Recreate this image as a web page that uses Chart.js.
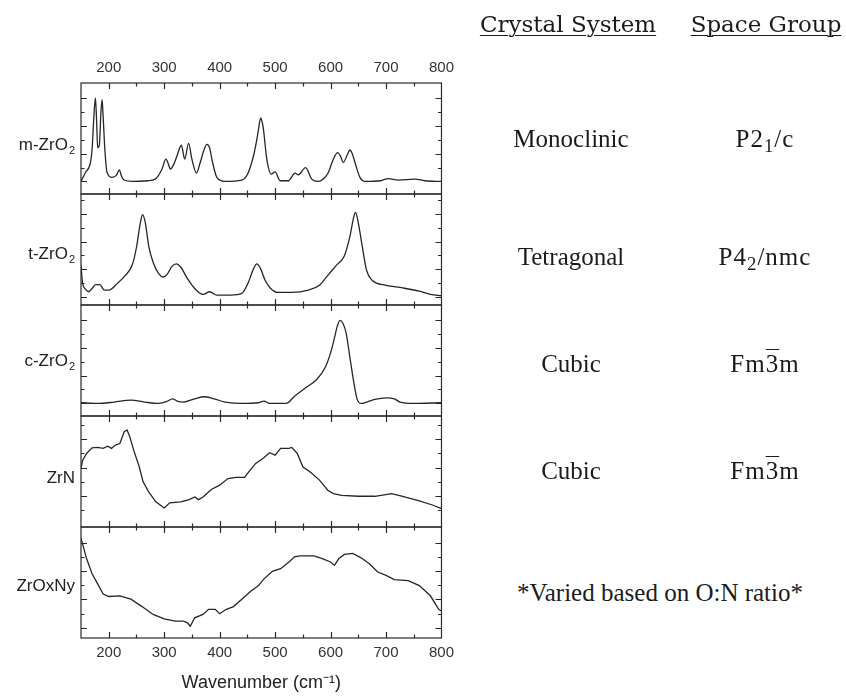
<!DOCTYPE html>
<html>
<head>
<meta charset="utf-8">
<script src="https://cdn.jsdelivr.net/npm/chart.js@4.4.1/dist/chart.umd.min.js"></script>
<style>
  html, body { margin: 0; padding: 0; background: #fff; }
  body { width: 846px; height: 696px; position: relative; overflow: hidden; }
  #plot { position: absolute; left: 0; top: 0; }
  .t { position: absolute; width: 300px; text-align: center; font-family: "Liberation Serif", "Times New Roman", serif;
       color: #1b1b1b; line-height: 1; white-space: nowrap; }
  .h { font-family: "DejaVu Serif", serif; font-size: 23px; text-decoration: underline; text-decoration-thickness: 1.4px; text-underline-offset: 3px; }
  .r { font-size: 25px; }
  .g { font-size: 25px; letter-spacing: 1px; }
  .t sub { font-size: 0.75em; vertical-align: -0.28em; line-height: 0; }
  .ov { text-decoration: overline; text-decoration-thickness: 1.4px; }
</style>
</head>
<body>
<canvas id="plot" width="460" height="696"></canvas>
<div id="table"></div>
<script>
// Raman spectra, intensity in arbitrary units (one unit per y tick), x in cm^-1
const wavenumberTicks = [200, 300, 400, 500, 600, 700, 800];

const mZrO2 = [[150,0],[158,0.64],[167,1.36],[170,2.3],[173,4.5],[176,6.0],[178,4.5],[180,2.43],[183,2.6],[186,5.0],[188,5.88],[190,4.6],[193,2.3],[197,0.64],[206,0.29],[214,0.45],[219,0.83],[223,0.4],[227,0.12],[242,0],[270,0.05],[284,0.17],[296,0.88],[303,1.6],[308,1.2],[311,0.88],[318,1.3],[323,1.83],[331,2.6],[337,1.6],[344,2.74],[350,1.6],[358,0.6],[365,1.36],[372,2.3],[377,2.67],[382,2.4],[386,1.6],[395,0.29],[410,0],[440,0.1],[450,0.5],[461,1.83],[467,3.0],[470,3.74],[474,4.57],[477,4.2],[479,3.74],[485,1.6],[493,0.52],[500,0.69],[509,0.05],[524,0.05],[536,0.6],[542,0.48],[555,1.0],[566,0.17],[578,0],[590,0.3],[596,0.64],[605,1.6],[613,2.07],[618,1.8],[623,1.36],[630,1.9],[635,2.26],[639,2.0],[644,1.36],[653,0.29],[662,0],[690,0.05],[704,0.21],[722,0.1],[752,0.17],[770,0.05],[800,0]];

const tZrO2 = [[150,2.26],[153,0.95],[158,0.55],[164,0.36],[170,0.6],[176,0.88],[184,0.88],[192,0.48],[200,0.48],[215,0.95],[230,1.55],[242,2.26],[250,3.57],[257,5.36],[261,5.95],[266,5.36],[272,3.69],[280,2.5],[290,1.67],[298,1.43],[305,1.6],[314,2.2],[322,2.38],[330,2.14],[342,1.31],[355,0.6],[370,0.17],[382,0.36],[395,0.12],[420,0.12],[440,0.24],[452,1.07],[461,2.02],[467,2.38],[474,2.02],[482,1.19],[492,0.6],[505,0.31],[530,0.31],[560,0.48],[580,0.83],[595,1.55],[610,2.26],[625,2.98],[635,4.4],[642,5.83],[645,6.12],[650,5.36],[657,3.69],[665,1.9],[675,1.19],[700,0.83],[730,0.64],[760,0.4],[780,0.17],[800,0.07]];

const cZrO2 = [[150,0.05],[180,0],[210,0.1],[240,0.24],[265,0.1],[290,0],[305,0.14],[315,0.33],[325,0.14],[335,0.1],[355,0.33],[372,0.48],[390,0.33],[410,0.1],[440,0],[470,0.05],[480,0.17],[490,0],[520,0],[535,0.52],[555,1.12],[575,1.71],[590,2.55],[600,3.62],[607,4.69],[612,5.52],[617,5.95],[622,5.76],[628,5.05],[635,3.26],[642,1.48],[648,0.29],[655,0],[665,0.1],[680,0.29],[700,0.4],[715,0.33],[725,0.1],[750,0],[800,0.05]];

const ZrN = [[150,3.93],[153,4.52],[160,5.0],[170,5.4],[180,5.43],[190,5.36],[198,5.52],[205,5.36],[212,5.6],[220,5.71],[228,6.55],[233,6.67],[238,6.19],[245,5.24],[255,4.05],[262,2.98],[272,2.26],[285,1.55],[300,1.12],[310,1.48],[330,1.55],[345,1.71],[355,1.9],[362,1.71],[370,1.9],[385,2.43],[400,2.74],[415,3.21],[430,3.29],[445,3.29],[455,3.81],[465,4.29],[478,4.64],[490,5.05],[500,4.88],[510,5.36],[525,5.36],[530,5.43],[540,5.0],[550,4.05],[565,3.62],[580,3.1],[595,2.38],[605,2.14],[620,2.02],[650,1.95],[680,1.95],[710,2.14],[730,1.95],[760,1.62],[785,1.31],[800,1.07]];

const ZrOxNy = [[150,6.31],[155,5.6],[160,4.88],[170,3.81],[180,3.1],[190,2.38],[200,2.21],[220,2.26],[240,2.02],[260,1.5],[280,0.95],[300,0.64],[320,0.48],[335,0.48],[342,0.36],[347,0.12],[355,0.71],[370,0.95],[380,1.31],[392,1.31],[400,1.0],[412,1.31],[425,1.5],[440,2.02],[455,2.55],[470,2.98],[480,3.45],[495,3.98],[510,4.17],[525,4.64],[535,5.0],[545,5.07],[570,5.07],[585,4.88],[600,4.64],[607,4.4],[615,4.88],[625,5.17],[640,5.24],[655,4.93],[670,4.52],[685,3.93],[700,3.69],[715,3.4],[740,3.33],[760,2.98],[780,2.26],[795,1.31],[800,1.19]];

const spectra = [mZrO2, tZrO2, cZrO2, ZrN, ZrOxNy];
const panelNames = [['m-ZrO', '2'], ['t-ZrO', '2'], ['c-ZrO', '2'], ['ZrN', ''], ['ZrOxNy', '']];
const yMin = [-0.9, -0.6, -0.9, -0.24, -0.71];
const yMax = [7.07, 7.45, 7.05, 7.67, 7.1];

const crystalSystems = ['Monoclinic', 'Tetragonal', 'Cubic', 'Cubic'];
const spaceGroups = ['P2<sub>1</sub>/c', 'P4<sub>2</sub>/nmc', 'Fm<span class="ov">3</span>m', 'Fm<span class="ov">3</span>m'];
const footnote = '*Varied based on O:N ratio*';

// ---- right-hand table (HTML text) ----
const rowBaselines = [147, 265, 372, 479];
const table = document.getElementById('table');
function addText(cls, html, centerX, baseline, size) {
  const d = document.createElement('div');
  d.className = 't ' + cls;
  d.innerHTML = html;
  d.style.left = (centerX - 150) + 'px';
  d.style.top = (baseline - 0.84 * size) + 'px';
  table.appendChild(d);
}
addText('h', 'Crystal System', 568, 32, 23);
addText('h', 'Space Group', 766, 32, 23);
crystalSystems.forEach((s, i) => addText('r', s, 571, rowBaselines[i], 25));
spaceGroups.forEach((s, i) => addText('g', s, 765, rowBaselines[i], 25));
addText('r', footnote, 660, 601, 25);

// ---- stacked spectra ----
const panelIds = spectra.map((_, i) => 'y' + i);
const labelDy = [7, 5, 1, 7, 4];
const sansFamily = '"Liberation Sans", Arial, sans-serif';
const lineColor = '#262626';

const frames = {
  id: 'frames',
  afterDatasetsDraw(chart) {
    const ctx = chart.ctx;
    const xs = chart.scales.x;
    const { left, right } = chart.chartArea;
    ctx.save();
    ctx.strokeStyle = '#2a2a2a';
    ctx.lineWidth = 1.2;
    panelIds.forEach((id, i) => {
      const ys = chart.scales[id];
      const top = ys.top, bottom = ys.bottom;
      ctx.strokeRect(left, top, right - left, bottom - top);
      ctx.beginPath();
      for (let v = 200; v < 800; v += 50) {
        const px = Math.round(xs.getPixelForValue(v)) + 0.5;
        const len = v % 100 === 0 ? 6 : 3.5;
        ctx.moveTo(px, top); ctx.lineTo(px, top + len);
        ctx.moveTo(px, bottom); ctx.lineTo(px, bottom - len);
      }
      for (let u = Math.ceil(ys.min); u <= Math.floor(ys.max); u++) {
        const py = Math.round(ys.getPixelForValue(u)) + 0.5;
        if (py < top + 3 || py > bottom - 3) continue;
        const len = u % 2 === 0 ? 6 : 3.5;
        ctx.moveTo(left, py); ctx.lineTo(left + len, py);
        ctx.moveTo(right, py); ctx.lineTo(right - len, py);
      }
      ctx.stroke();

      // sample label left of each panel
      const [main, sub] = panelNames[i];
      const cy = (top + bottom) / 2 + labelDy[i];
      ctx.fillStyle = '#222';
      ctx.textBaseline = 'middle';
      ctx.textAlign = 'left';
      ctx.font = '11px ' + sansFamily;
      const subW = sub ? ctx.measureText(sub).width + 1 : 0;
      ctx.font = '17px ' + sansFamily;
      const mainW = ctx.measureText(main).width;
      const xEnd = left - 6;
      ctx.fillText(main, xEnd - subW - mainW, cy);
      if (sub) {
        ctx.font = '11px ' + sansFamily;
        ctx.fillText(sub, xEnd - subW + 1, cy + 5);
      }
    });
    ctx.restore();
  }
};

const xTickCfg = {
  padding: 6,
  color: '#333',
  font: { family: sansFamily, size: 15 }
};

const scales = {
  x: {
    type: 'linear', position: 'bottom', min: 150, max: 800,
    afterBuildTicks: s => { s.ticks = wavenumberTicks.map(v => ({ value: v })); },
    afterFit: s => { s.height = 56; },
    grid: { display: false, drawTicks: false }, border: { display: false },
    ticks: xTickCfg,
    title: { display: true, text: 'Wavenumber (cm\u207B\u00B9)', color: '#222',
             font: { family: sansFamily, size: 18 }, padding: 0 }
  },
  xTop: {
    type: 'linear', position: 'top', min: 150, max: 800,
    afterBuildTicks: s => { s.ticks = wavenumberTicks.map(v => ({ value: v })); },
    afterFit: s => { s.height = 26; },
    grid: { display: false, drawTicks: false }, border: { display: false },
    ticks: xTickCfg
  }
};
// stacked vertical scales are laid out bottom-up, so register the lowest panel first
for (let i = panelIds.length - 1; i >= 0; i--) {
  scales[panelIds[i]] = {
    type: 'linear', position: 'left', stack: 'panels', stackWeight: 1,
    min: yMin[i], max: yMax[i], display: false
  };
}

new Chart(document.getElementById('plot'), {
  type: 'line',
  data: {
    datasets: spectra.map((pts, i) => ({
      data: pts.map(([x, y]) => ({ x, y })),
      yAxisID: panelIds[i],
      xAxisID: 'x',
      borderColor: lineColor,
      borderWidth: 1.3,
      pointRadius: 0,
      fill: false,
      cubicInterpolationMode: i < 3 ? 'monotone' : 'default',
      tension: i < 3 ? 0.4 : 0
    }))
  },
  options: {
    responsive: false,
    animation: false,
    devicePixelRatio: 1,
    layout: { padding: { left: 81, right: 17, top: 57, bottom: 2 } },
    plugins: { legend: { display: false }, tooltip: { enabled: false } },
    scales
  },
  plugins: [frames]
});
</script>
</body>
</html>
